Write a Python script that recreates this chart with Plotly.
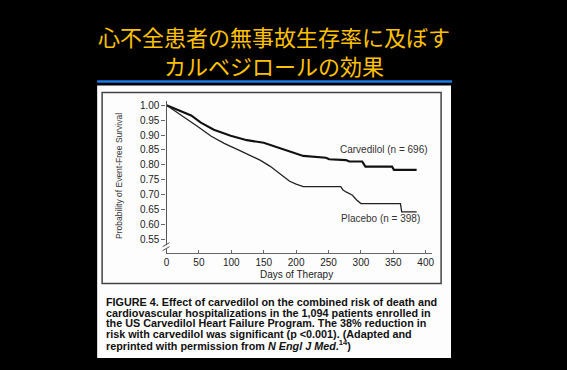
import plotly.graph_objects as go

# ---------------- data ----------------
days_carvedilol = [0, 23, 38, 53, 73, 99, 124, 150, 170, 190, 206, 211, 246, 251, 277, 282, 302, 307, 348, 351, 386]
surv_carvedilol = [1.00, 0.979, 0.966, 0.942, 0.918, 0.898, 0.883, 0.874, 0.860, 0.847, 0.836, 0.830, 0.824, 0.819,
                   0.816, 0.811, 0.811, 0.794, 0.794, 0.783, 0.783]

days_placebo = [0, 18, 33, 48, 69, 89, 114, 145, 160, 175, 190, 200, 211, 269, 272, 277, 282, 287, 293, 300, 361, 363, 386]
surv_placebo = [1.00, 0.974, 0.952, 0.929, 0.896, 0.872, 0.847, 0.815, 0.795, 0.770, 0.745, 0.735, 0.727, 0.727,
                0.716, 0.709, 0.704, 0.698, 0.683, 0.670, 0.670, 0.642, 0.642]

x_ticks = [0, 50, 100, 150, 200, 250, 300, 350, 400]
y_ticks = [0.55, 0.60, 0.65, 0.70, 0.75, 0.80, 0.85, 0.90, 0.95, 1.00]
y_tick_text = ["0.55", "0.60", "0.65", "0.70", "0.75", "0.80", "0.85", "0.90", "0.95", "1.00"]

title_lines = ["心不全患者の無事故生存率に及ぼす", "カルベジロールの効果"]
caption_lines = [
    "FIGURE 4. Effect of carvedilol on the combined risk of death and",
    "cardiovascular hospitalizations in the 1,094 patients enrolled in",
    "the US Carvedilol Heart Failure Program. The 38% reduction in",
    "risk with carvedilol was significant (p &lt;0.001). (Adapted and",
    "reprinted with permission from <i>N Engl J Med</i>.<sup>14</sup>)",
]
label_carvedilol = "Carvedilol (n = 696)"
label_placebo = "Placebo (n = 398)"

# ---------------- layout helpers (pixel -> paper) ----------------
W, H = 567, 370
def PX(x):
    return x / W
def PY(y):
    return 1 - y / H

fig = go.Figure()
fig.add_trace(go.Scatter(x=days_carvedilol, y=surv_carvedilol, mode="lines",
                         line=dict(color="#111111", width=2.1), showlegend=False, hoverinfo="skip"))
fig.add_trace(go.Scatter(x=days_placebo, y=surv_placebo, mode="lines",
                         line=dict(color="#222222", width=1.3), showlegend=False, hoverinfo="skip"))

shapes = [
    # white panel
    dict(type="rect", xref="paper", yref="paper", x0=PX(95), x1=PX(452), y0=PY(358), y1=PY(84),
         fillcolor="#fdfdfd", line=dict(width=0), layer="below"),
    # blue rule under title
    dict(type="line", xref="paper", yref="paper", x0=PX(95), x1=PX(453), y0=PY(80), y1=PY(80),
         line=dict(color="#1a7be6", width=2.5)),
    # chart frame
    dict(type="rect", xref="paper", yref="paper", x0=PX(100), x1=PX(442), y0=PY(283), y1=PY(91),
         line=dict(color="#444444", width=1.5), layer="below"),
    # axis break
    dict(type="rect", xref="paper", yref="paper", x0=PX(163), x1=PX(167), y0=PY(248.5), y1=PY(244.5),
         fillcolor="#fdfdfd", line=dict(width=0), layer="above"),
    dict(type="line", xref="paper", yref="paper", x0=PX(161), x1=PX(168), y0=PY(246), y1=PY(242),
         line=dict(color="#555555", width=1)),
    dict(type="line", xref="paper", yref="paper", x0=PX(161), x1=PX(168), y0=PY(250), y1=PY(246),
         line=dict(color="#555555", width=1)),
]

annotations = [
    dict(text=title_lines[0] + "<br>" + title_lines[1], x=PX(273), y=PY(49), xref="paper", yref="paper",
         showarrow=False, align="center",
         font=dict(family="Noto Sans CJK JP", size=22, color="#FFC200"), xanchor="center", yanchor="middle"),
    dict(text="Probability of Event-Free Survival", x=PX(117), y=PY(175), xref="paper", yref="paper",
         showarrow=False, textangle=-90, font=dict(family="Liberation Sans", size=8.5, color="#333333"),
         xanchor="center", yanchor="middle"),
    dict(text="Days of Therapy", x=PX(296), y=PY(274), xref="paper", yref="paper", showarrow=False,
         font=dict(family="Liberation Sans", size=10, color="#222222"), xanchor="center", yanchor="middle"),
    dict(text=label_carvedilol, x=PX(384), y=PY(148), xref="paper", yref="paper", showarrow=False,
         font=dict(family="Liberation Sans", size=10, color="#333333"), xanchor="center", yanchor="middle"),
    dict(text=label_placebo, x=PX(381), y=PY(218), xref="paper", yref="paper", showarrow=False,
         font=dict(family="Liberation Sans", size=10, color="#333333"), xanchor="center", yanchor="middle"),
]
cap_y = [302, 312.6, 323.2, 333.8, 344.4]
for line, yy in zip(caption_lines, cap_y):
    annotations.append(dict(text="<b>" + line + "</b>", x=PX(102), y=PY(yy), xref="paper", yref="paper",
                            showarrow=False, font=dict(family="Liberation Sans", size=10.8, color="#111111"),
                            xanchor="left", yanchor="middle"))

fig.update_layout(
    width=W, height=H, margin=dict(l=0, r=0, t=0, b=0),
    paper_bgcolor="#000000", plot_bgcolor="rgba(0,0,0,0)",
    shapes=shapes, annotations=annotations,
    xaxis=dict(domain=[PX(165), PX(433)], range=[0, 410], tickvals=x_ticks, ticks="inside", ticklen=3,
               tickcolor="#666666", showline=True, linecolor="#666666", linewidth=1.2, showgrid=False,
               zeroline=False, tickfont=dict(family="Liberation Sans", size=10, color="#222222")),
    yaxis=dict(domain=[PY(252), PY(100)], range=[0.505, 1.013], tickvals=y_ticks, ticktext=y_tick_text,
               ticks="outside", ticklen=4, tickcolor="#666666", showline=True, linecolor="#555555",
               linewidth=1.2, showgrid=False, zeroline=False,
               tickfont=dict(family="Liberation Sans", size=10, color="#222222")),
)

fig.write_html("out.html", config={"displayModeBar": False},
               post_script="document.body.style.margin='0px';document.body.style.background='#000';")
